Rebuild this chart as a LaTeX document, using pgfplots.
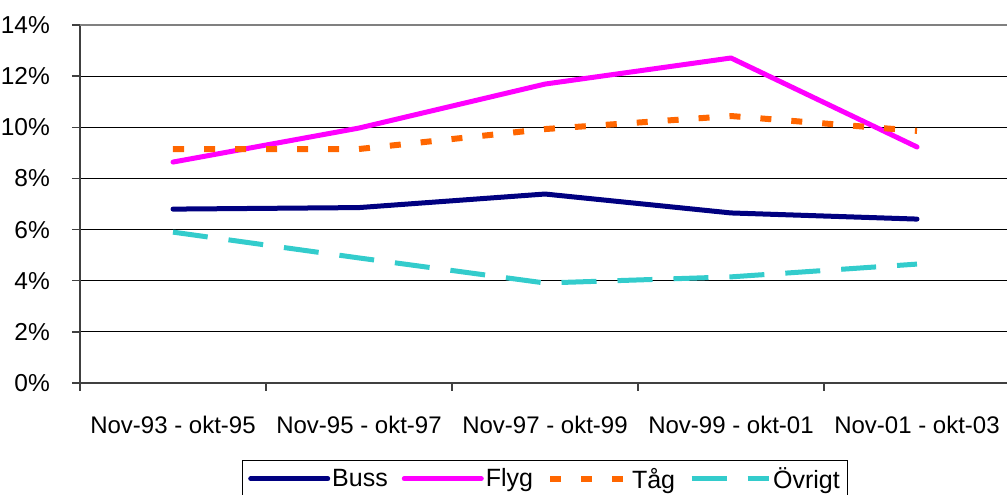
\documentclass[border=0pt]{standalone}
\usepackage{fontspec}
\setmainfont{Liberation Sans}
\usepackage{pgfplots}
\pgfplotsset{compat=1.18}
\definecolor{buss}{HTML}{000080}
\definecolor{flyg}{HTML}{FF00FF}
\definecolor{tag}{HTML}{FF6600}
\definecolor{ovrigt}{HTML}{33CCCC}
\definecolor{axgray}{HTML}{808080}

\begin{document}
\begin{tikzpicture}
\useasboundingbox (0pt,0pt) rectangle (1007pt,495pt);
\begin{axis}[
  at={(80pt,112pt)}, anchor=south west,
  scale only axis, width=930pt, height=358pt,
  xmin=-0.5, xmax=4.5, ymin=0, ymax=14,
  axis x line*=bottom, axis y line*=left,
  axis line style={black!75, line width=2pt},
  xtick={-0.5,0.5,...,4.5},
  x tick label as interval,
  xticklabels={Nov-93 - okt-95, Nov-95 - okt-97, Nov-97 - okt-99, Nov-99 - okt-01, Nov-01 - okt-03},
  ytick={0,2,...,14},
  yticklabels={0\%,2\%,4\%,6\%,8\%,10\%,12\%,14\%},
  tick align=outside, major tick length=8pt,
  tick style={black!75, line width=1.5pt},
  ymajorgrids, grid style={black, line width=1.2pt},
  xticklabel style={font=\fontsize{24}{28}\selectfont, anchor=north, inner sep=0pt, yshift=-25pt},
  yticklabel style={font=\fontsize{24.5}{30}\selectfont, anchor=east, inner sep=0pt, xshift=-22pt},
  legend columns=4,
  legend style={at={(0.5,-0.215)}, anchor=north, draw=black, line width=1pt,
    font=\fontsize{25}{30}\selectfont, inner xsep=6pt, inner ysep=5pt,
    /tikz/every even column/.append style={column sep=12pt}},
  legend image code/.code={\draw[#1] (0pt,0pt) -- (77pt,0pt);},
]
\addplot[buss, line width=5pt, line cap=round, line join=round] coordinates {(0,6.80) (1,6.86) (2,7.39) (3,6.65) (4,6.41)};
\addlegendentry{Buss}
\addplot[flyg, line width=5pt, line cap=round, line join=round] coordinates {(0,8.64) (1,9.97) (2,11.69) (3,12.71) (4,9.23)};
\addlegendentry{Flyg}
\addplot[tag, line width=6pt, dash pattern=on 11pt off 20pt] coordinates {(0,9.15) (1,9.15) (2,9.93) (3,10.44) (4,9.86)};
\addlegendentry{Tåg}
\addplot[ovrigt, line width=5pt, dash pattern=on 35pt off 21pt] coordinates {(0,5.90) (1,4.89) (2,3.91) (3,4.15) (4,4.65)};
\addlegendentry{Övrigt}
\draw[axgray, line width=2pt] (axis cs:-0.5,14) -- (axis cs:4.5,14);
\end{axis}
\end{tikzpicture}
\end{document}
